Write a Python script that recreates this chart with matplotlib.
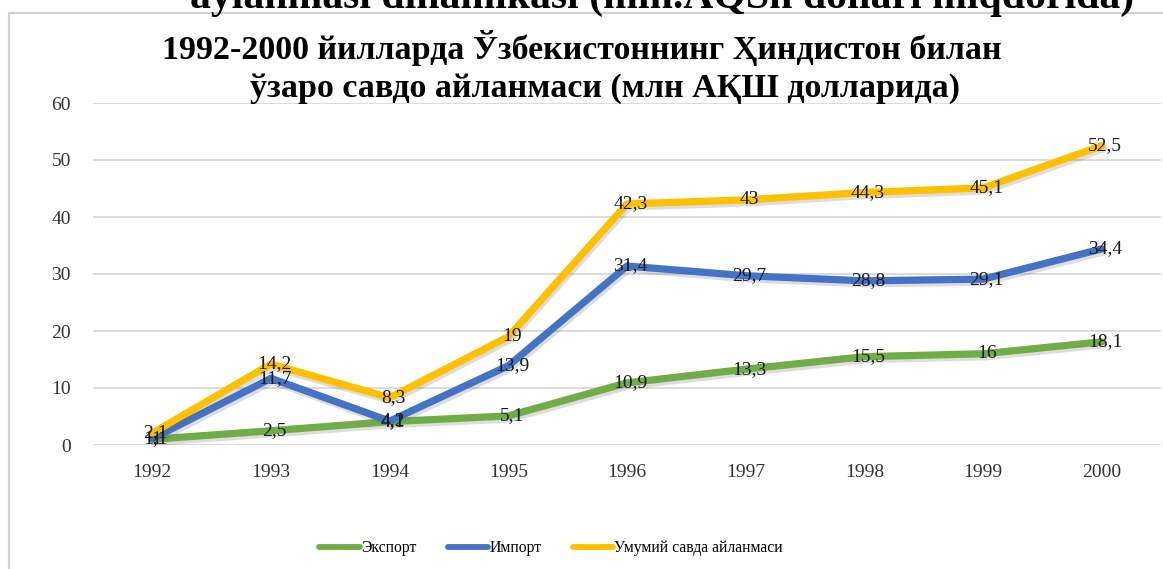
import matplotlib
matplotlib.use("Agg")
import matplotlib.pyplot as plt
import matplotlib.patheffects as pe
from matplotlib.patches import Rectangle

years = ["1992", "1993", "1994", "1995", "1996", "1997", "1998", "1999", "2000"]
export_vals = [1, 2.5, 4.1, 5.1, 10.9, 13.3, 15.5, 16, 18.1]
import_vals = [1.1, 11.7, 4.2, 13.9, 31.4, 29.7, 28.8, 29.1, 34.4]
total_vals = [2.1, 14.2, 8.3, 19, 42.3, 43, 44.3, 45.1, 52.5]
series_names = ["Экспорт", "Импорт", "Умумий савда айланмаси"]
series_colors = ["#70AD47", "#4472C4", "#FFC000"]
title_lines = ["1992-2000 йилларда Ўзбекистоннинг Ҳиндистон билан",
               "ўзаро савдо айланмаси (млн АҚШ долларида)"]
clipped_text = "aylanmasi dinamikasi (mln.AQSh dollari miqdorida)"
yticks = [0, 10, 20, 30, 40, 50, 60]

W, H = 1163, 569
plt.rcParams['font.family'] = ['Liberation Serif', 'DejaVu Serif']
fig = plt.figure(figsize=(W / 100, H / 100), dpi=100)

def fx(px):
    return px / W

def fy(py):
    return 1 - py / H

# chart border box
fig.patches.append(Rectangle((fx(9), fy(H + 20)), 1.2, fy(12.5) - fy(H + 20),
                             transform=fig.transFigure, fill=False,
                             edgecolor="#D0D0D0", linewidth=1.5, zorder=0))

ax = fig.add_axes([fx(93), fy(445), fx(1161) - fx(93), fy(103) - fy(445)])
x = list(range(len(years)))
shadow = [pe.SimpleLineShadow(offset=(1.2, -2.2), shadow_color="#666666", alpha=0.22), pe.Normal()]
all_vals = [export_vals, import_vals, total_vals]
for vals, name, col in zip(all_vals, series_names, series_colors):
    ax.plot(x, vals, color=col, lw=5.2, solid_capstyle="round", solid_joinstyle="round",
            label=name, path_effects=shadow, zorder=3)
for vals in all_vals:
    for xi, v in zip(x, vals):
        lab = ("%g" % v).replace(".", ",")
        ax.text(xi + 0.03, v, lab, ha="center", va="center", fontsize=14,
                color="#1a1a1a", zorder=5)

ax.set_xlim(-0.5, len(years) - 0.5)
ax.set_ylim(0, 60)
ax.set_yticks(yticks)
ax.set_xticks(x)
ax.set_xticklabels(years)
ax.tick_params(axis="both", length=0, labelsize=14, colors="#333333")
ax.tick_params(axis="y", pad=16)
ax.tick_params(axis="x", pad=14)
ax.grid(axis="y", color="#D9D9D9", lw=1.3)
ax.set_axisbelow(True)
for s in ax.spines.values():
    s.set_visible(False)

# titles
t1 = fig.text(fx(582), fy(48), title_lines[0], ha="center", va="center",
              fontsize=25, fontweight="bold", color="black")
t2 = fig.text(fx(605), fy(88), title_lines[1], ha="center", va="center",
              fontsize=25, fontweight="bold", color="black")
t0 = fig.text(fx(190), fy(8), clipped_text, ha="left", va="baseline",
              fontsize=25, fontweight="bold", color="black")

fig.canvas.draw()
r = fig.canvas.get_renderer()
w1 = t1.get_window_extent(r).width
s = 25 * 840 / w1
t1.set_fontsize(s)
t2.set_fontsize(s)
w0 = t0.get_window_extent(r).width
t0.set_fontsize(25 * 943 / w0)

fig.legend(loc="center", bbox_to_anchor=(fx(551), fy(548)), ncol=3, frameon=False,
           handlelength=2.6, handletextpad=0.05, columnspacing=2.0, fontsize=11.3)
for l in fig.legends[0].get_lines():
    l.set_linewidth(4.2)
    l.set_path_effects([])

fig.savefig("out.png", dpi=100)
